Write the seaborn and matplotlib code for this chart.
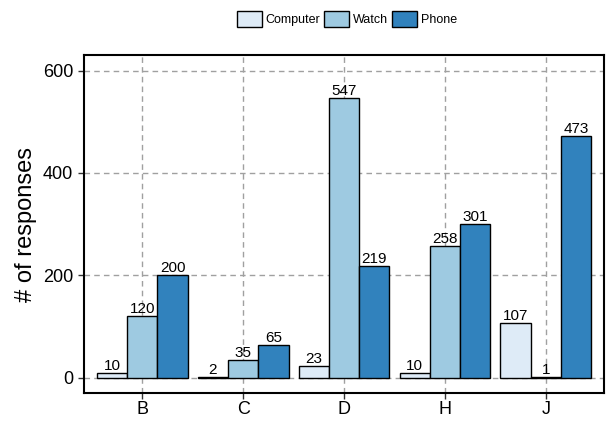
import pandas as pd
import matplotlib
matplotlib.use('Agg')
import matplotlib.pyplot as plt
import seaborn as sns

# data
categories = ['B', 'C', 'D', 'H', 'J']
devices = ['Computer', 'Watch', 'Phone']
computer = [10, 2, 23, 10, 107]
watch = [120, 35, 547, 258, 1]
phone = [200, 65, 219, 301, 473]
colors = ['#deebf7', '#9ecae1', '#3182bd']

data = pd.DataFrame({
    'category': categories * 3,
    'device': [d for d in devices for _ in categories],
    'responses': computer + watch + phone,
})

sns.set_style('white')
plt.rcParams['font.family'] = ['Liberation Sans', 'DejaVu Sans']
plt.rcParams['text.color'] = 'black'
plt.rcParams['axes.labelcolor'] = 'black'
plt.rcParams['xtick.color'] = 'black'
plt.rcParams['ytick.color'] = 'black'

fig = plt.figure(figsize=(6.16, 4.21), dpi=100)
ax = fig.add_axes([0.136, 0.066, 0.845, 0.803])

sns.barplot(data=data, x='category', y='responses', hue='device',
            hue_order=devices, palette=colors, saturation=1, width=0.9,
            edgecolor='black', linewidth=1, ax=ax, legend=True)

for c in ax.containers:
    ax.bar_label(c, fontsize=11, padding=0, color='black')

ax.set_ylim(-30, 630)
ax.set_xlim(-0.58, 4.58)
ax.set_yticks([0, 200, 400, 600])
ax.grid(True, color='#a0a0a0', linestyle=(0, (4, 3)), linewidth=1)
ax.set_axisbelow(True)
for s in ax.spines.values():
    s.set_color('black')
    s.set_linewidth(1.5)
ax.tick_params(axis='both', direction='out', length=4, width=1,
               color='#333333', labelsize=13, labelcolor='black',
               left=True, bottom=True)
ax.tick_params(axis='x', pad=1.5)
ax.set_xlabel('')
ax.set_ylabel('# of responses', fontsize=17)

handles, labels = ax.get_legend_handles_labels()
ax.get_legend().remove()
fig.legend(handles, labels, loc='upper center', bbox_to_anchor=(0.563, 1.0),
           ncol=3, frameon=False, fontsize=9, handlelength=2.0,
           handleheight=1.6, handletextpad=0.3, columnspacing=0.3)

fig.savefig('out.png', dpi=100)
